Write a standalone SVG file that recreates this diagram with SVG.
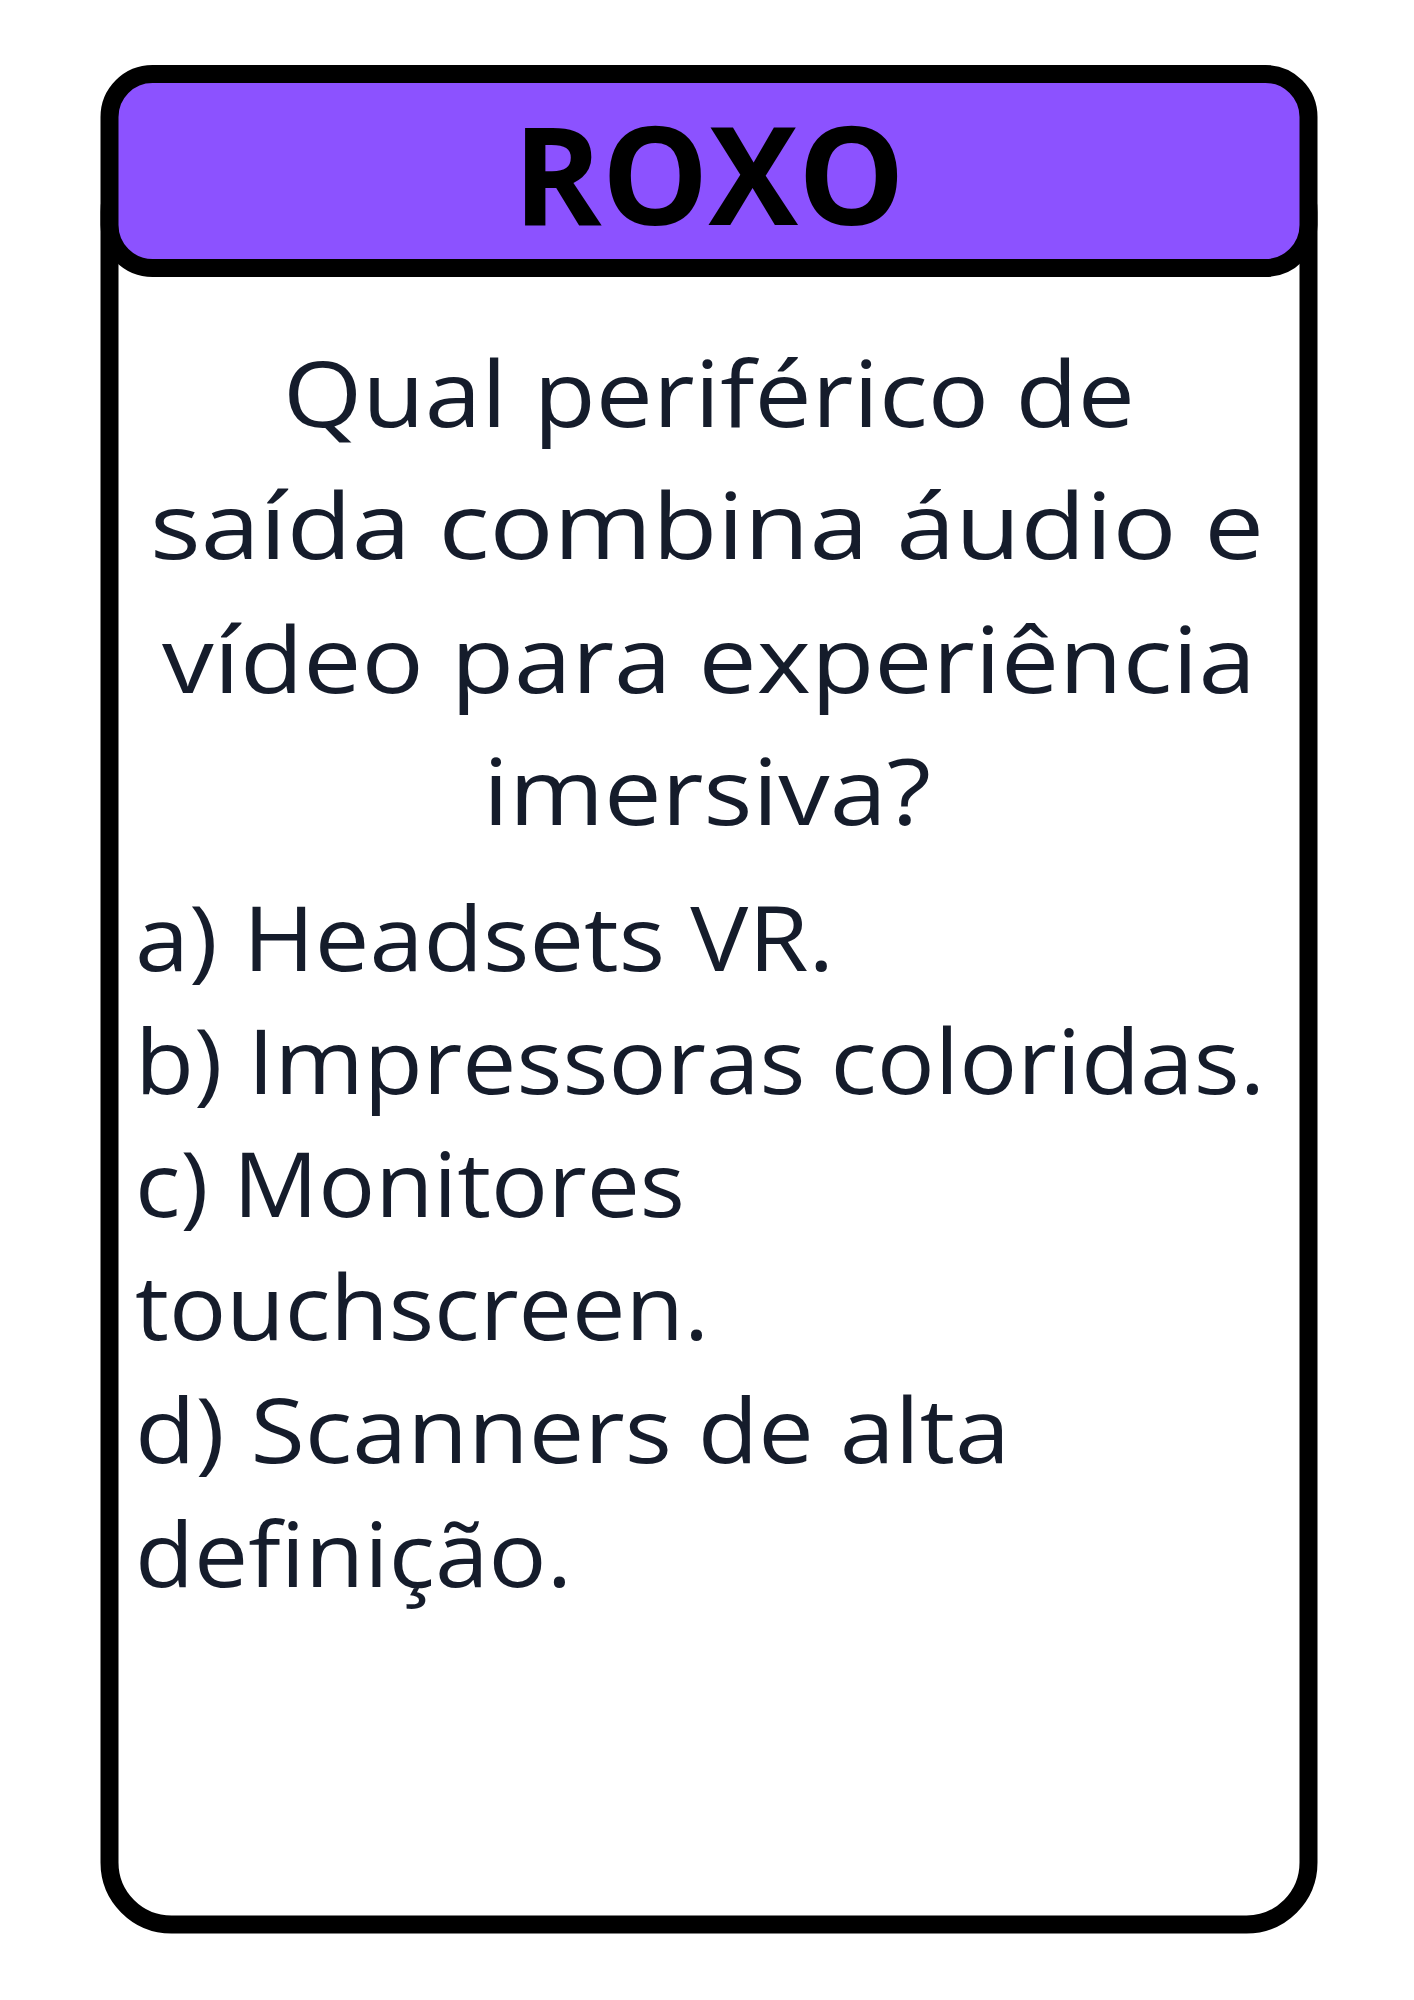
<svg xmlns="http://www.w3.org/2000/svg" width="1414" height="2000" viewBox="0 0 1414 2000">
<style>
.frame{fill:#ffffff;stroke:#000000;stroke-width:18}
.head{fill:#8C52FF;stroke:#000000;stroke-width:18}
.title{font-family:"Open Sans","Noto Sans","Liberation Sans",sans-serif;font-weight:700;font-size:137px;fill:#000000}
.q{font-family:"Open Sans","Noto Sans","Liberation Sans",sans-serif;font-size:92px;fill:#151C2B}
.opt{font-family:"Open Sans","Noto Sans","Liberation Sans",sans-serif;font-size:90px;fill:#151C2B}
</style>
<rect width="1414" height="2000" fill="#ffffff"/>
<g id="card">
<rect class="frame" x="109.5" y="150" width="1199" height="1774.5" rx="62" ry="62"/>
</g>
<g id="header">
<rect class="head" x="109.5" y="74" width="1199" height="194" rx="43" ry="43"/>
<text class="title" x="709" y="225" text-anchor="middle" textLength="392" lengthAdjust="spacingAndGlyphs">ROXO</text>
</g>
<g id="question">
<text class="q" x="709" y="427" text-anchor="middle" textLength="852" lengthAdjust="spacingAndGlyphs">Qual periférico de</text>
<text class="q" x="707" y="559" text-anchor="middle" textLength="1114" lengthAdjust="spacingAndGlyphs">saída combina áudio e</text>
<text class="q" x="709" y="693" text-anchor="middle" textLength="1094" lengthAdjust="spacingAndGlyphs">vídeo para experiência</text>
<text class="q" x="707" y="825" text-anchor="middle" textLength="448" lengthAdjust="spacingAndGlyphs">imersiva?</text>
</g>
<g id="options">
<text class="opt" x="135" y="971" textLength="699" lengthAdjust="spacingAndGlyphs">a) Headsets VR.</text>
<text class="opt" x="135" y="1094" textLength="1130" lengthAdjust="spacingAndGlyphs">b) Impressoras coloridas.</text>
<text class="opt" x="135" y="1217" textLength="550" lengthAdjust="spacingAndGlyphs">c) Monitores</text>
<text class="opt" x="135" y="1340" textLength="574" lengthAdjust="spacingAndGlyphs">touchscreen.</text>
<text class="opt" x="135" y="1463" textLength="875" lengthAdjust="spacingAndGlyphs">d) Scanners de alta</text>
<text class="opt" x="135" y="1587" textLength="437" lengthAdjust="spacingAndGlyphs">definição.</text>
</g>
</svg>
